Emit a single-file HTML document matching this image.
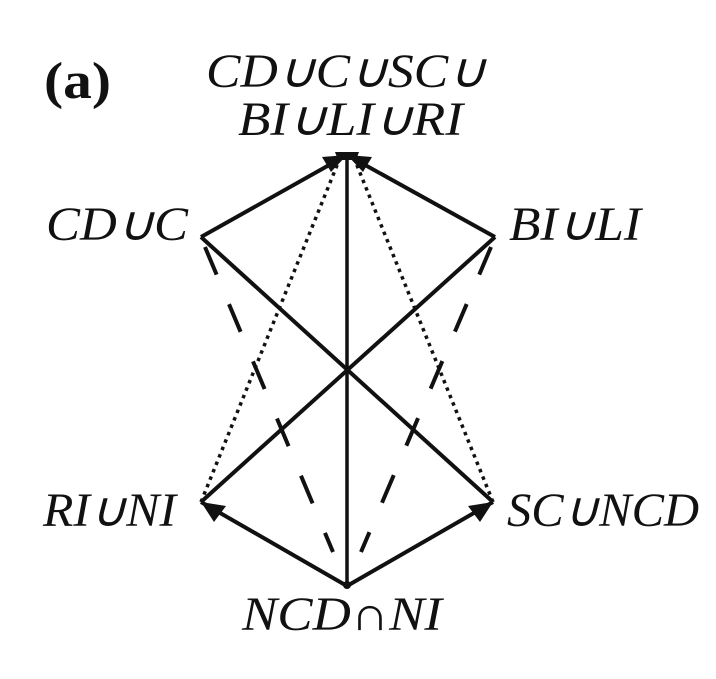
<!DOCTYPE html>
<html><head><meta charset="utf-8"><style>html,body{margin:0;padding:0;background:#fff}svg{display:block}</style></head>
<body>
<svg width="716" height="679" viewBox="0 0 716 679" xmlns="http://www.w3.org/2000/svg">
<g font-family="Liberation Serif, serif" fill="#111">
<text x="44" y="98" font-size="52" font-weight="bold" textLength="67" lengthAdjust="spacingAndGlyphs">(a)</text>
<g font-style="italic" font-size="48">
<text x="206" y="87" textLength="280" lengthAdjust="spacingAndGlyphs">CD∪C∪SC∪</text>
<text x="238" y="135" textLength="225" lengthAdjust="spacingAndGlyphs">BI∪LI∪RI</text>
<text x="46" y="240" textLength="142" lengthAdjust="spacingAndGlyphs">CD∪C</text>
<text x="509" y="240" textLength="132" lengthAdjust="spacingAndGlyphs">BI∪LI</text>
<text x="43" y="526" textLength="133" lengthAdjust="spacingAndGlyphs">RI∪NI</text>
<text x="507" y="526" textLength="192" lengthAdjust="spacingAndGlyphs">SC∪NCD</text>
<text x="242" y="630" textLength="200" lengthAdjust="spacingAndGlyphs">NCD∩NI</text>
</g>
</g>
<g stroke="#111" stroke-width="4" fill="none" stroke-linecap="butt">
<line x1="201" y1="237" x2="347" y2="155"/>
<line x1="495" y1="237" x2="347" y2="155"/>
<line x1="347" y1="155" x2="347" y2="586" stroke-width="3.5"/>
<line x1="201" y1="237" x2="493" y2="502"/>
<line x1="495" y1="237" x2="201" y2="502"/>
<line x1="347" y1="586" x2="201" y2="502"/>
<line x1="347" y1="586" x2="493" y2="502"/>
<line x1="201" y1="502" x2="340" y2="158" stroke-dasharray="3.5 4.5" stroke-width="3.5"/>
<line x1="493" y1="502" x2="354" y2="158" stroke-dasharray="3.5 4.5" stroke-width="3.5"/>
<line x1="205" y1="247" x2="333" y2="552" stroke-dasharray="30 32"/>
<line x1="491" y1="247" x2="361" y2="552" stroke-dasharray="30 32"/>
</g>
<g fill="#111">
<polygon points="347,155 322,157 331,172"/>
<polygon points="347,155 372,157 363,172"/>
<polygon points="335,152 359,152 356,160 338,160"/>
<polygon points="201,502 226,506 214,522"/>
<polygon points="493,502 468,506 480,522"/>
<circle cx="347" cy="585" r="4"/>
</g>
</svg>
</body></html>
